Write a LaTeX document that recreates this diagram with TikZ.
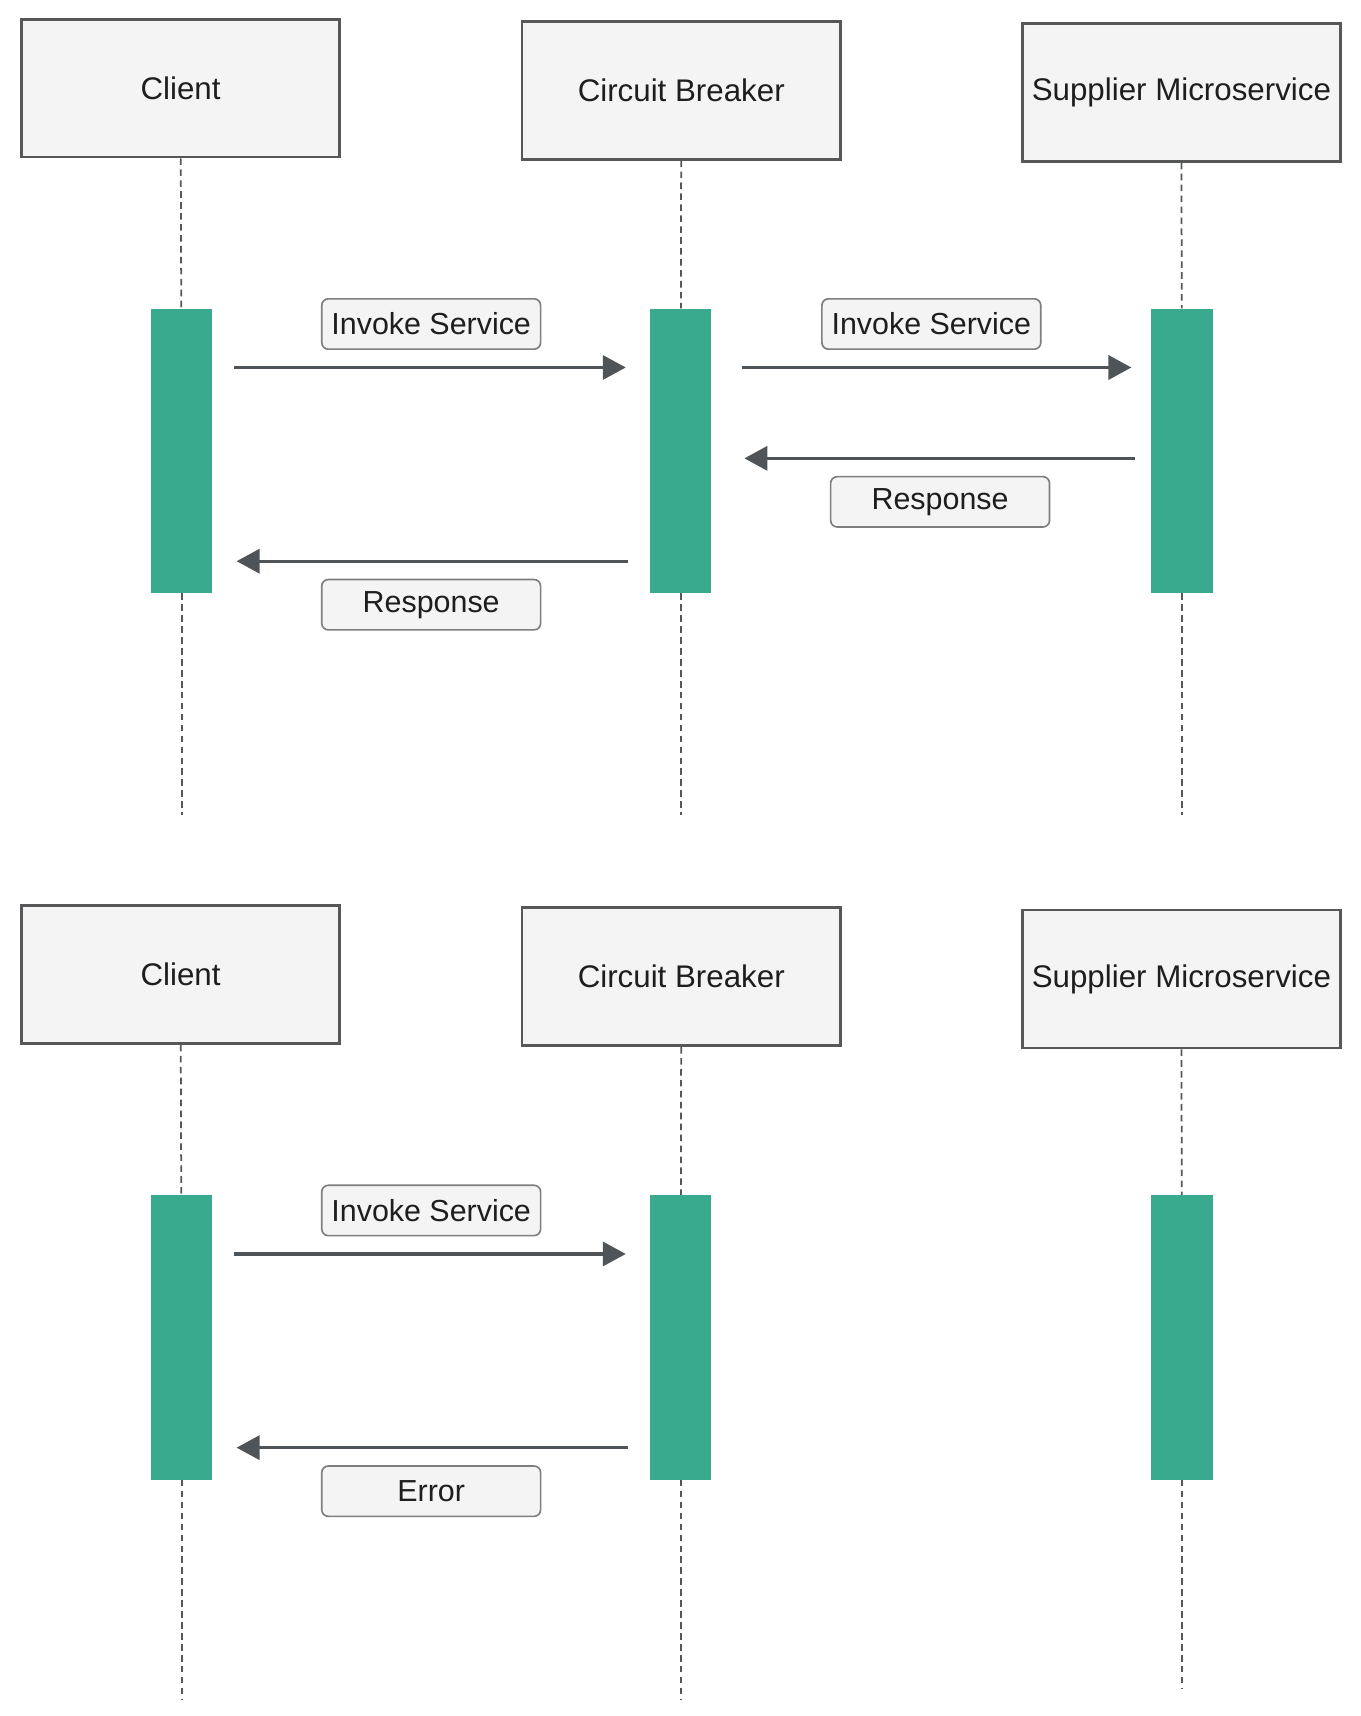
\documentclass[tikz,border=0pt]{standalone}
\usepackage{fontspec}
\setmainfont{Liberation Sans}
\usetikzlibrary{arrows.meta, positioning}

\definecolor{boxgray}{HTML}{F4F4F4}
\definecolor{edgegray}{HTML}{555759}
\definecolor{labeledge}{HTML}{7C7E80}
\definecolor{arrowgray}{HTML}{4F5458}
\definecolor{barteal}{HTML}{3AAA8E}
\definecolor{textgray}{HTML}{1E1E1E}

\begin{document}
\begin{tikzpicture}[x=1pt, y=-1pt,
    actor/.style={rectangle, draw=edgegray, line width=2.5pt, fill=boxgray, minimum width=291pt, minimum height=126pt, text=textgray, font=\fontsize{28.6}{34}\selectfont},
    activebar/.style={rectangle, fill=barteal, minimum width=56pt, minimum height=260pt, inner sep=0pt},
    msglabel/.style={rectangle, draw=labeledge, line width=1.5pt, fill=boxgray, rounded corners=6pt, minimum width=200pt, minimum height=46pt, inner sep=0pt, text=textgray, font=\fontsize{27.8}{33}\selectfont},
    msg/.style={draw=arrowgray, line width=3pt, -{Triangle[length=21pt,width=22pt]}, shorten <=20pt, shorten >=22pt},
    lifeline/.style={draw=edgegray, line width=1.6pt, dash pattern=on 6pt off 4pt}]
    \useasboundingbox (0,0) rectangle (1243,1568);

    % normal call: the breaker passes the request on
    \node [actor] (client) at (165,80.5) {Client};
    \node [actor] (breaker) at (622.5,82.5) {Circuit Breaker};
    \node [actor] (supplier) at (1079.5,84.5) {Supplier Microservice};
    \node [activebar] (clbar) at (166,412) {};
    \node [activebar] (cbbar) at (622,412) {};
    \node [activebar] (spbar) at (1080,412) {};
    \coordinate (clend) at (166,745);
    \coordinate (cbend) at (622,745);
    \coordinate (spend) at (1080,745);
    \draw [lifeline] (client) -- (clbar);
    \draw [lifeline] (clbar) -- (clend);
    \draw [lifeline] (breaker) -- (cbbar);
    \draw [lifeline] (cbbar) -- (cbend);
    \draw [lifeline] (supplier) -- (spbar);
    \draw [lifeline] (spbar) -- (spend);
    \draw [msg] ([yshift=-54pt]clbar.north east) -- node [msglabel, above=16pt] (invoke1) {Invoke Service} ([yshift=-54pt]cbbar.north west);
    \draw [msg, shorten <=28pt, shorten >=18pt] ([yshift=-54pt]cbbar.north east) -- node [msglabel, above=16pt] (invoke2) {Invoke Service} ([yshift=-54pt]spbar.north west);
    \draw [msg, shorten <=15pt, shorten >=30pt] ([yshift=-137pt]spbar.north west) -- node [msglabel, below=16pt, xshift=8pt] (resp2) {Response} ([yshift=-137pt]cbbar.north east);
    \draw [msg] ([yshift=-231pt]cbbar.north west) -- node [msglabel, below=16pt] (resp1) {Response} ([yshift=-231pt]clbar.north east);

    % open circuit: the breaker answers with an error
    \node [actor] (client2) at (165,890.5) {Client};
    \node [actor] (breaker2) at (622.5,892.5) {Circuit Breaker};
    \node [actor] (supplier2) at (1079.5,894.5) {Supplier Microservice};
    \node [activebar] (clbar2) at (166,1222) {};
    \node [activebar] (cbbar2) at (622,1222) {};
    \node [activebar] (spbar2) at (1080,1222) {};
    \coordinate (clend2) at (166,1553);
    \coordinate (cbend2) at (622,1553);
    \coordinate (spend2) at (1080,1543);
    \draw [lifeline] (client2) -- (clbar2);
    \draw [lifeline] (clbar2) -- (clend2);
    \draw [lifeline] (breaker2) -- (cbbar2);
    \draw [lifeline] (cbbar2) -- (cbend2);
    \draw [lifeline] (supplier2) -- (spbar2);
    \draw [lifeline] (spbar2) -- (spend2);
    \draw [msg] ([yshift=-54pt]clbar2.north east) -- node [msglabel, above=16pt] (invoke3) {Invoke Service} ([yshift=-54pt]cbbar2.north west);
    \draw [msg] ([yshift=-231pt]cbbar2.north west) -- node [msglabel, below=16pt] (error) {Error} ([yshift=-231pt]clbar2.north east);
\end{tikzpicture}
\end{document}
